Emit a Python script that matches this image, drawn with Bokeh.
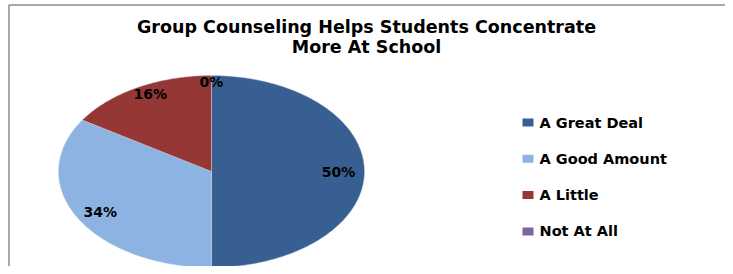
import numpy as np
from bokeh.plotting import figure
from bokeh.models import ColumnDataSource, Range1d
from bokeh.core.properties import value
from bokeh.embed import file_html
from bokeh.resources import INLINE

title_lines = ["Group Counseling Helps Students Concentrate", "More At School"]
categories = ["A Great Deal", "A Good Amount", "A Little", "Not At All"]
percents = [50, 34, 16, 0]
colors = ["#385F92", "#8DB3E2", "#953735", "#8064A2"]

W, H = 725, 266
p = figure(width=W, height=H, output_backend="svg", toolbar_location=None,
           x_range=Range1d(0, W), y_range=Range1d(H, 0),
           min_border=0, outline_line_color=None)
p.axis.visible = False
p.grid.visible = False
p.background_fill_color = "white"
p.border_fill_color = "white"

# frame
p.line(x=[8.5, 8.5, W], y=[H, 4.5, 4.5], line_color="#8C8C8C", line_width=1.5)

# elliptical pie
cx, cy, rx, ry = 211, 171, 153, 96
total = float(sum(percents))
start = np.pi / 2
mids = []
for pct, col in zip(percents, colors):
    frac = pct / total
    end = start - frac * 2 * np.pi
    mids.append((start + end) / 2)
    if frac > 0:
        t = np.linspace(start, end, max(int(frac * 400), 4))
        xs = np.concatenate([[cx], cx + rx * np.cos(t), [cx]])
        ys = np.concatenate([[cy], cy - ry * np.sin(t), [cy]])
        p.patch(xs, ys, fill_color=col, line_color="#C9D4E4", line_width=0.8, line_alpha=0.6)
    start = end

# data labels
r_lab = 0.83
lx = [cx + rx * r_lab * np.cos(m) for m in mids]
ly = [cy - ry * (r_lab + 0.1 * abs(np.sin(m))) * np.sin(m) for m in mids]
lab = ColumnDataSource(dict(x=lx, y=ly, t=[f"{v}%" for v in percents]))
p.text(x="x", y="y", text="t", source=lab, text_align="center", text_baseline="middle",
       text_font=value("DejaVu Sans"), text_font_style="bold", text_font_size="14px",
       text_color="black")

# title
tsrc = ColumnDataSource(dict(x=[366, 366], y=[26, 46], t=title_lines))
p.text(x="x", y="y", text="t", source=tsrc, text_align="center", text_baseline="middle",
       text_font=value("DejaVu Sans"), text_font_style="bold", text_font_size="17.5px",
       text_color="black")

# legend
ly0, dy = 122, 36.3
leg = ColumnDataSource(dict(
    x=[527.5] * len(categories),
    y=[ly0 + i * dy for i in range(len(categories))],
    tx=[539] * len(categories),
    c=colors, t=categories))
p.rect(x="x", y="y", width=11, height=8, fill_color="c", line_color=None, source=leg)
p.text(x="tx", y="y", text="t", source=leg, text_align="left", text_baseline="middle",
       text_font=value("DejaVu Sans"), text_font_style="bold", text_font_size="14.5px",
       text_color="black")

open("out.html", "w").write(file_html(p, INLINE))
